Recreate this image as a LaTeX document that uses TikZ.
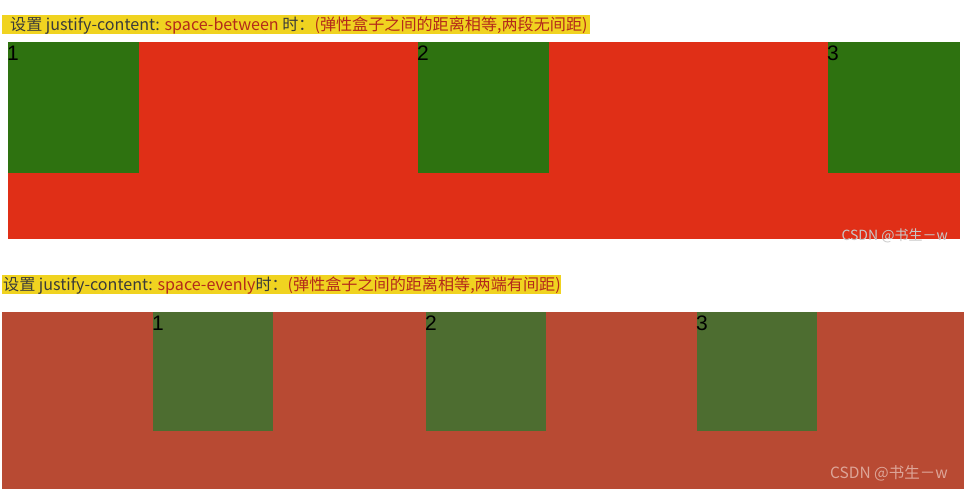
\documentclass[tikz,border=0pt]{standalone}
\usepackage{fontspec}
\setmainfont{Noto Sans CJK SC}
\newfontfamily\numfont{Liberation Sans}
\definecolor{hl}{HTML}{F0D320}
\definecolor{graytxt}{HTML}{3A3A3A}
\definecolor{redtxt}{HTML}{B42A1A}
\definecolor{redA}{HTML}{E02F17}
\definecolor{greenA}{HTML}{2E7210}
\definecolor{redB}{HTML}{B84A33}
\definecolor{greenB}{HTML}{4D6D30}
\definecolor{wm}{HTML}{C8C8C8}
\definecolor{wmB}{HTML}{DDA598}
\tikzset{
  num/.style={inner sep=0pt, anchor=north west, font=\numfont\fontsize{21}{21}\selectfont, text=black},
  caption/.style={inner sep=0pt, anchor=base west, font=\fontsize{16.1}{17}\selectfont, text=graytxt},
  wmark/.style={inner sep=0pt, anchor=base east, font=\fontsize{14}{14}\selectfont, text=wm},
}
\begin{document}
\begin{tikzpicture}[x=1pt,y=-1pt]
\useasboundingbox (0,0) rectangle (968,496);
\fill[white] (0,0) rectangle (968,496);
% top
\fill[hl] (2,15) rectangle (590,34);
\node[caption] (cap1) at (10,30.5) {设置 justify-content: \textcolor{redtxt}{space-between} 时：\textcolor{redtxt}{(弹性盒子之间的距离相等,两段无间距)}};
\fill[redA] (8,42) rectangle (960,239);
\fill[greenA] (8,42) rectangle (139,173);
\fill[greenA] (418,42) rectangle (549,173);
\fill[greenA] (828,42) rectangle (960,173);
\node[num] (n1) at (7,46) {1};
\node[num] (n2) at (417,46) {2};
\node[num] (n3) at (827,46) {3};
\node[wmark] (w1) at (948,240) {CSDN @书生－w};
% bottom
\fill[hl] (2,275) rectangle (561,294);
\node[caption] (cap2) at (3,290.5) {设置 justify-content: \textcolor{redtxt}{space-evenly}时：\textcolor{redtxt}{(弹性盒子之间的距离相等,两端有间距)}};
\fill[redB] (2,312) rectangle (964,489);
\fill[greenB] (153,312) rectangle (273,431);
\fill[greenB] (426,312) rectangle (546,431);
\fill[greenB] (697,312) rectangle (817,431);
\node[num] (m1) at (152,316) {1};
\node[num] (m2) at (425,316) {2};
\node[num] (m3) at (696,316) {3};
\node[wmark, text=wmB, font=\fontsize{15.5}{16}\selectfont] (w2) at (948,478) {CSDN @书生－w};
\end{tikzpicture}
\end{document}
